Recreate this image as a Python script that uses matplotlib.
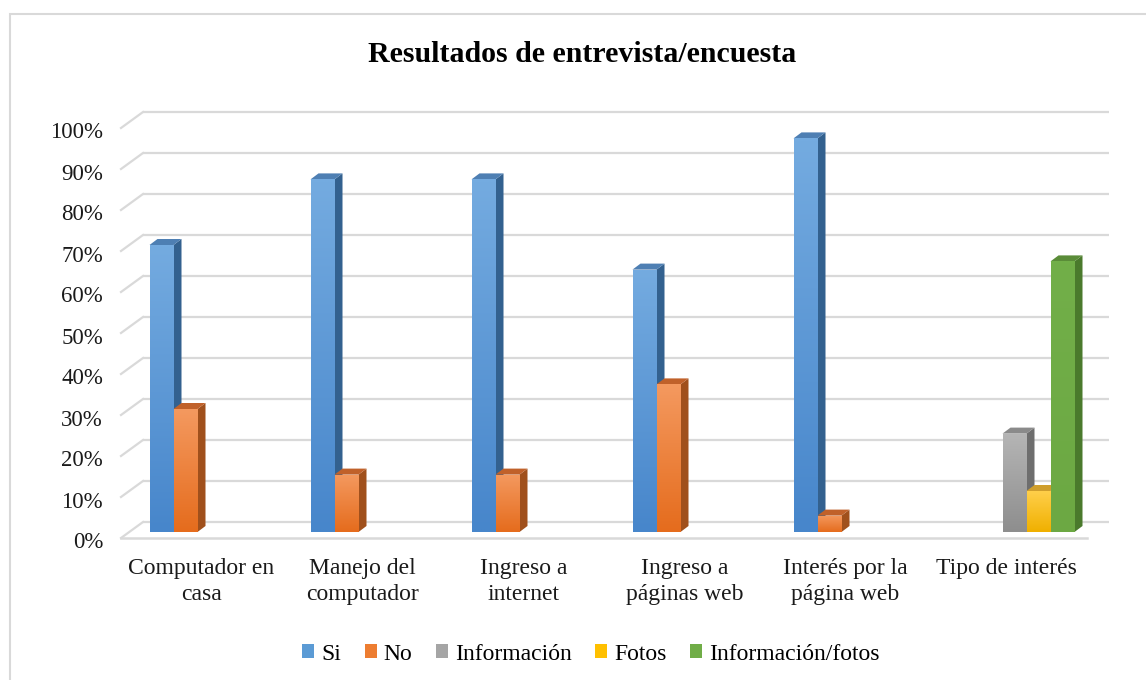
import matplotlib
matplotlib.use("Agg")
import matplotlib.pyplot as plt
import numpy as np
from matplotlib.patches import Polygon, Rectangle
from matplotlib.colors import to_rgb

plt.rcParams['font.family'] = ['Liberation Serif', 'DejaVu Serif']

# ---------------- data ----------------
categories = ["Computador en\ncasa", "Manejo del\ncomputador", "Ingreso a\ninternet",
              "Ingreso a\npáginas web", "Interés por la\npágina web", "Tipo de interés"]
series_names = ["Si", "No", "Información", "Fotos", "Información/fotos"]
si = [0.70, 0.86, 0.86, 0.64, 0.96, 0.0]
no = [0.30, 0.14, 0.14, 0.36, 0.04, 0.0]
informacion = [0.0, 0.0, 0.0, 0.0, 0.0, 0.24]
fotos = [0.0, 0.0, 0.0, 0.0, 0.0, 0.10]
info_fotos = [0.0, 0.0, 0.0, 0.0, 0.0, 0.66]
y_ticks = [0.0, 0.1, 0.2, 0.3, 0.4, 0.5, 0.6, 0.7, 0.8, 0.9, 1.0]
y_tick_labels = ["0%", "10%", "20%", "30%", "40%", "50%", "60%", "70%", "80%", "90%", "100%"]
title = "Resultados de entrevista/encuesta"

series_values = [si, no, informacion, fotos, info_fotos]
# (front top, front bottom, side, top face, legend)
series_colors = [
    ("#74ABE0", "#4786CB", "#33618F", "#4E7FB3", "#5B9BD5"),
    ("#F4995F", "#E56C1D", "#A0501C", "#C0612A", "#ED7D31"),
    ("#B5B5B5", "#8E8E8E", "#6E6E6E", "#8A8A8A", "#A5A5A5"),
    ("#FFCF4A", "#F0B000", "#B88A00", "#CF9E2C", "#FFC000"),
    ("#72AF49", "#6CA843", "#4A7A2C", "#5A8C38", "#70AD47"),
]

# ---------------- layout ----------------
W, H = 1146, 680
fig = plt.figure(figsize=(W / 100, H / 100), dpi=100)
ax_l, ax_b, ax_w, ax_h = 129, 148, 966, 410
ax = fig.add_axes([ax_l / W, ax_b / H, ax_w / W, ax_h / H])
ax.axis('off')
ncat = len(categories)
xmin, xmax = -0.5, ncat - 0.5
sx = (xmax - xmin) / ax_w   # data units per pixel (x)
sy = 1.0 / ax_h             # data units per pixel (y)

# 3-D offsets in pixels
bx, by = 14 * sx, 10 * sy      # back wall relative to bar plane
fx, fy = -8 * sx, -6 * sy      # front floor edge relative to bar plane
dx, dy = 8 * sx, 6 * sy        # bar depth

grid_c = "#D9D9D9"
for t in y_ticks:
    ax.plot([xmin + bx, xmax + bx], [t + by, t + by], color=grid_c, lw=1.6,
            zorder=1, clip_on=False, solid_capstyle='butt')
    ax.plot([xmin + fx, xmin + bx], [t + fy, t + by], color=grid_c, lw=1.6,
            zorder=1, clip_on=False)
# floor front edge
ax.plot([xmin + fx, xmax + fx], [fy, fy], color=grid_c, lw=1.8, zorder=1, clip_on=False)

# tick labels
for t, lab in zip(y_ticks, y_tick_labels):
    ax.text(xmin + fx - 18 * sx, t + fy - 5 * sy, lab, ha='right', va='center',
            fontsize=16.5, color='#1a1a1a', clip_on=False)

# bars
nser = len(series_values)
bw = 24 / 161 * (xmax - xmin) / ncat  # width of one bar in data units
z = 3
for ci in range(ncat):
    for si_, vals in enumerate(series_values):
        v = vals[ci]
        if v <= 0:
            continue
        ftop, fbot, side, topc, _ = series_colors[si_]
        x0 = ci + (si_ - nser / 2) * bw
        x1 = x0 + bw
        # side face
        ax.add_patch(Polygon([[x1, 0], [x1 + dx, dy], [x1 + dx, v + dy], [x1, v]],
                             closed=True, fc=side, ec='none', zorder=z, clip_on=False))
        # top face
        ax.add_patch(Polygon([[x0, v], [x0 + dx, v + dy], [x1 + dx, v + dy], [x1, v]],
                             closed=True, fc=topc, ec='none', zorder=z, clip_on=False))
        z += 1
        # front face with vertical gradient
        rect = Rectangle((x0, 0), bw, v, fc='none', ec='none', zorder=z)
        ax.add_patch(rect)
        c0 = np.array(to_rgb(fbot))
        c1 = np.array(to_rgb(ftop))
        frac = np.linspace(0, 1, 64)[:, None]
        grad = (c0[None, :] * (1 - frac) + c1[None, :] * frac)[:, None, :]
        im = ax.imshow(grad, extent=[x0, x1, 0, v], origin='lower', aspect='auto',
                       zorder=z, interpolation='bilinear')
        im.set_clip_path(rect)
        z += 1

# category labels
for ci, lab in enumerate(categories):
    ax.text(ci + fx, fy - 20 * sy, lab, ha='center', va='top', fontsize=17,
            linespacing=1.3, color='#1a1a1a', clip_on=False)

ax.set_xlim(xmin, xmax)
ax.set_ylim(0, 1)
ax.set_aspect('auto')

# title
fig.text(582 / W, 1 - 55 / H, title, ha='center', va='center', fontsize=21.5,
         fontweight='bold', color='black')

# legend
handles = [Rectangle((0, 0), 1, 1, fc=c[4], ec='none') for c in series_colors]
fig.legend(handles, series_names, loc='center', bbox_to_anchor=(591 / W, 26 / H),
           ncol=5, frameon=False, fontsize=17, handlelength=0.5, handleheight=0.5,
           handletextpad=0.3, columnspacing=1.0)

# chart border
fig.add_artist(Rectangle((10 / W, -0.05), 1.2, (H - 14) / H + 0.05,
                         transform=fig.transFigure, fill=False, ec='#D9D9D9', lw=1.5))

fig.savefig("out.png", dpi=100)
